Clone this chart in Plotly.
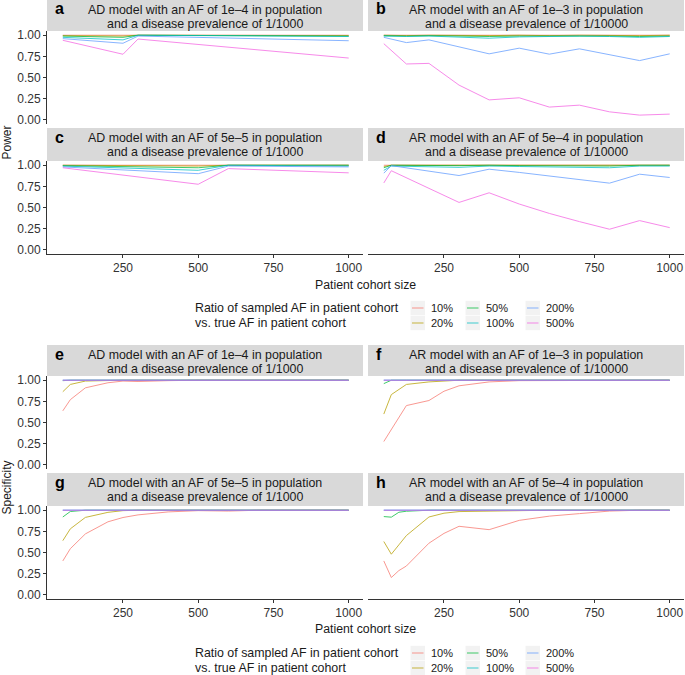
import plotly.graph_objects as go

W, H = 685, 675

# ---------------- data ----------------
ratios = ["10%", "20%", "50%", "100%", "200%", "500%"]
colors = ["#F8766D", "#B79F00", "#00BA38", "#00BFC4", "#619CFF", "#F564E3"]
x_ticks = [250, 500, 750, 1000]
y_ticks = [0, 0.25, 0.5, 0.75, 1.0]
y_tick_text = ["0.00", "0.25", "0.50", "0.75", "1.00"]

# Power panels (a-d); each list holds one row per ratio (10%,20%,50%,100%,200%,500%)
x_a = [50, 250, 300, 1000]
power_a = [
    [1.0, 1.0, 1.0, 1.0],
    [0.995, 0.99, 1.0, 0.995],
    [0.99, 0.975, 1.0, 0.99],
    [0.975, 0.945, 1.0, 0.985],
    [0.96, 0.905, 0.99, 0.935],
    [0.94, 0.775, 0.955, 0.73],
]

x_b = [50, 125, 200, 300, 400, 500, 600, 700, 800, 900, 1000]
power_b = [
    [1.0, 1.0, 1.0, 1.0, 1.0, 1.0, 1.0, 1.0, 1.0, 1.0, 1.0],
    [1.0, 0.995, 1.0, 0.995, 0.995, 1.0, 0.995, 1.0, 0.995, 0.995, 1.0],
    [0.995, 0.99, 0.995, 0.99, 0.985, 0.99, 0.99, 0.995, 0.99, 0.985, 0.99],
    [0.99, 0.985, 0.99, 0.975, 0.965, 0.98, 0.985, 0.99, 0.985, 0.975, 0.985],
    [0.975, 0.913, 0.945, 0.865, 0.78, 0.847, 0.776, 0.839, 0.77, 0.70, 0.78],
    [0.90, 0.66, 0.667, 0.41, 0.235, 0.26, 0.15, 0.173, 0.094, 0.055, 0.067],
]

x_c = [50, 500, 600, 1000]
power_c = [
    [1.0, 1.0, 1.0, 1.0],
    [1.0, 0.99, 1.0, 1.0],
    [0.995, 0.97, 1.0, 1.0],
    [0.99, 0.94, 1.0, 0.99],
    [0.98, 0.90, 0.99, 0.98],
    [0.97, 0.775, 0.96, 0.91],
]

x_d = [50, 75, 300, 400, 500, 600, 700, 800, 900, 1000]
power_d = [
    [1.0, 1.0, 1.0, 1.0, 1.0, 1.0, 1.0, 1.0, 1.0, 1.0],
    [0.985, 1.0, 1.0, 1.0, 1.0, 1.0, 1.0, 1.0, 1.0, 1.0],
    [0.97, 1.0, 0.995, 1.0, 0.995, 0.995, 0.995, 0.99, 1.0, 1.0],
    [0.94, 0.99, 0.975, 0.99, 0.985, 0.98, 0.975, 0.97, 0.99, 0.99],
    [0.906, 0.995, 0.878, 0.953, 0.915, 0.872, 0.83, 0.788, 0.894, 0.855],
    [0.79, 0.935, 0.56, 0.674, 0.541, 0.43, 0.333, 0.243, 0.345, 0.262],
]

# Specificity panels (e-h)
x_e = [50, 75, 125, 200, 250, 300, 400, 500, 1000]
spec_e = [
    [0.638, 0.77, 0.91, 0.97, 0.99, 0.985, 0.995, 1.0, 1.0],
    [0.864, 0.95, 0.99, 1.0, 1.0, 1.0, 1.0, 1.0, 1.0],
    [0.995, 1.0, 1.0, 1.0, 1.0, 1.0, 1.0, 1.0, 1.0],
    [1.0, 1.0, 1.0, 1.0, 1.0, 1.0, 1.0, 1.0, 1.0],
    [1.0, 1.0, 1.0, 1.0, 1.0, 1.0, 1.0, 1.0, 1.0],
    [1.0, 1.0, 1.0, 1.0, 1.0, 1.0, 1.0, 1.0, 1.0],
]

x_f = [50, 75, 125, 200, 250, 300, 400, 500, 1000]
spec_f = [
    [0.275, 0.42, 0.70, 0.76, 0.87, 0.934, 0.98, 0.995, 1.0],
    [0.60, 0.83, 0.95, 0.98, 0.99, 1.0, 1.0, 1.0, 1.0],
    [0.96, 1.0, 1.0, 1.0, 1.0, 1.0, 1.0, 1.0, 1.0],
    [1.0, 1.0, 1.0, 1.0, 1.0, 1.0, 1.0, 1.0, 1.0],
    [1.0, 1.0, 1.0, 1.0, 1.0, 1.0, 1.0, 1.0, 1.0],
    [1.0, 1.0, 1.0, 1.0, 1.0, 1.0, 1.0, 1.0, 1.0],
]

x_g = [50, 75, 125, 200, 250, 300, 400, 500, 600, 700, 1000]
spec_g = [
    [0.40, 0.545, 0.72, 0.863, 0.914, 0.945, 0.98, 0.995, 0.99, 1.0, 1.0],
    [0.64, 0.78, 0.915, 0.975, 0.995, 1.0, 1.0, 1.0, 1.0, 1.0, 1.0],
    [0.92, 0.985, 1.0, 1.0, 1.0, 1.0, 1.0, 1.0, 1.0, 1.0, 1.0],
    [1.0, 1.0, 1.0, 1.0, 1.0, 1.0, 1.0, 1.0, 1.0, 1.0, 1.0],
    [1.0, 1.0, 1.0, 1.0, 1.0, 1.0, 1.0, 1.0, 1.0, 1.0, 1.0],
    [1.0, 1.0, 1.0, 1.0, 1.0, 1.0, 1.0, 1.0, 1.0, 1.0, 1.0],
]

x_h = [50, 75, 100, 125, 200, 250, 300, 400, 500, 600, 700, 800, 900, 1000]
spec_h = [
    [0.40, 0.204, 0.286, 0.34, 0.61, 0.726, 0.81, 0.77, 0.88, 0.93, 0.96, 0.99, 1.0, 1.0],
    [0.63, 0.48, 0.59, 0.70, 0.92, 0.965, 0.984, 0.99, 1.0, 1.0, 1.0, 1.0, 1.0, 1.0],
    [0.925, 0.918, 0.976, 0.988, 1.0, 1.0, 1.0, 1.0, 1.0, 1.0, 1.0, 1.0, 1.0, 1.0],
    [1.0, 1.0, 1.0, 1.0, 1.0, 1.0, 1.0, 1.0, 1.0, 1.0, 1.0, 1.0, 1.0, 1.0],
    [1.0, 1.0, 1.0, 1.0, 1.0, 1.0, 1.0, 1.0, 1.0, 1.0, 1.0, 1.0, 1.0, 1.0],
    [1.0, 1.0, 1.0, 1.0, 1.0, 1.0, 1.0, 1.0, 1.0, 1.0, 1.0, 1.0, 1.0, 1.0],
]

title_ad1 = ["AD model with an AF of 1e\u20134 in population", "and a disease prevalence of 1/1000"]
title_ar1 = ["AR model with an AF of 1e\u20133 in population", "and a disease prevalence of 1/10000"]
title_ad2 = ["AD model with an AF of 5e\u20135 in population", "and a disease prevalence of 1/1000"]
title_ar2 = ["AR model with an AF of 5e\u20134 in population", "and a disease prevalence of 1/10000"]

legend_title = ["Ratio of sampled AF in patient cohort", "vs. true AF in patient cohort"]

# ---------------- layout geometry (pixels) ----------------
FONT = "Liberation Sans, Arial, Helvetica, sans-serif"
cols_px = [(47, 363), (368, 684)]
rows_px = [(0, 31, 124), (128, 161, 254), (345, 376, 469), (473, 506, 599)]
LINE_ALPHA = 0.75


def fx(px):
    return px / W


def fy(py):
    return 1 - py / H


panels = [
    ("a", 0, 0, x_a, power_a, title_ad1),
    ("b", 0, 1, x_b, power_b, title_ar1),
    ("c", 1, 0, x_c, power_c, title_ad2),
    ("d", 1, 1, x_d, power_d, title_ar2),
    ("e", 2, 0, x_e, spec_e, title_ad1),
    ("f", 2, 1, x_f, spec_f, title_ar1),
    ("g", 3, 0, x_g, spec_g, title_ad2),
    ("h", 3, 1, x_h, spec_h, title_ar2),
]

fig = go.Figure()
layout = dict(
    width=W, height=H,
    margin=dict(l=0, r=0, t=0, b=0),
    paper_bgcolor="white", plot_bgcolor="white",
    showlegend=False,
    font=dict(family=FONT, size=12, color="#1a1a1a"),
)
shapes = []
annotations = []

for i, (letter, r, c, xs, ys, title) in enumerate(panels):
    n = i + 1
    sfx = "" if n == 1 else str(n)
    x0, x1 = cols_px[c]
    s_top, p_top, p_bot = rows_px[r]
    bottom = r in (1, 3)
    left = c == 0
    layout["xaxis" + sfx] = dict(
        domain=[fx(x0), fx(x1)], range=[-2.5, 1047.5], anchor="y" + sfx,
        tickvals=x_ticks, showgrid=False, zeroline=False,
        showline=bottom, linecolor="#333333", linewidth=1,
        ticks="outside" if bottom else "", ticklen=3, tickwidth=1, tickcolor="#333333",
        showticklabels=bottom, tickfont=dict(size=12, color="#333333", family=FONT),
        automargin=False, fixedrange=True,
    )
    layout["yaxis" + sfx] = dict(
        domain=[fy(p_bot), fy(p_top)], range=[-0.05, 1.05], anchor="x" + sfx,
        tickvals=y_ticks, ticktext=y_tick_text, showgrid=False, zeroline=False,
        showline=left, linecolor="#333333", linewidth=1,
        ticks="outside" if left else "", ticklen=3, tickwidth=1, tickcolor="#333333",
        showticklabels=left, tickfont=dict(size=12, color="#333333", family=FONT),
        automargin=False, fixedrange=True,
    )
    for k in range(len(ratios)):
        fig.add_trace(go.Scatter(
            x=xs, y=ys[k], mode="lines", name=ratios[k],
            line=dict(color=colors[k], width=1), opacity=LINE_ALPHA,
            xaxis="x" + sfx, yaxis="y" + sfx, hoverinfo="skip", showlegend=False,
        ))
    # strip
    shapes.append(dict(type="rect", xref="paper", yref="paper",
                       x0=fx(x0), x1=fx(x1), y0=fy(p_top), y1=fy(s_top),
                       fillcolor="#D9D9D9", line=dict(width=0), layer="below"))
    cx = (x0 + x1) / 2
    annotations.append(dict(text=title[0], x=fx(cx), y=fy(s_top + 10), xref="paper", yref="paper",
                            showarrow=False, xanchor="center", yanchor="middle",
                            font=dict(size=12.4, color="#1a1a1a", family=FONT)))
    annotations.append(dict(text=title[1], x=fx(cx), y=fy(s_top + 24), xref="paper", yref="paper",
                            showarrow=False, xanchor="center", yanchor="middle",
                            font=dict(size=12.4, color="#1a1a1a", family=FONT)))
    annotations.append(dict(text="<b>" + letter + "</b>", x=fx(x0 + 6), y=fy(s_top + 9),
                            xref="paper", yref="paper", showarrow=False,
                            xanchor="left", yanchor="middle",
                            font=dict(size=16, color="#000000", family=FONT)))

# axis titles
for txt, ymid in (("Power", (31 + 254) / 2), ("Specificity", (376 + 599) / 2)):
    annotations.append(dict(text=txt, x=fx(6), y=fy(ymid), xref="paper", yref="paper",
                            showarrow=False, textangle=-90, xanchor="center", yanchor="middle",
                            font=dict(size=12, color="#1a1a1a", family=FONT)))
for yt in (285, 629):
    annotations.append(dict(text="Patient cohort size", x=fx(365.5), y=fy(yt), xref="paper", yref="paper",
                            showarrow=False, xanchor="center", yanchor="middle",
                            font=dict(size=12.3, color="#1a1a1a", family=FONT)))

# legends (drawn for both halves)
key_left = [410.5, 465.5, 525.5]
for off in (0, 345):
    rows_y = [308 + off, 323 + off]
    for j, t in enumerate(legend_title):
        annotations.append(dict(text=t, x=fx(193), y=fy(rows_y[j]), xref="paper", yref="paper",
                                showarrow=False, xanchor="left", yanchor="middle",
                                font=dict(size=12.4, color="#1a1a1a", family=FONT)))
    for k in range(len(ratios)):
        col, row = k // 2, k % 2
        kx0 = key_left[col]
        kx1 = kx0 + 14.5
        ky = rows_y[row]
        shapes.append(dict(type="rect", xref="paper", yref="paper",
                           x0=fx(kx0), x1=fx(kx1), y0=fy(ky + 7.2), y1=fy(ky - 7.2),
                           fillcolor="#F2F2F2", line=dict(width=0), layer="below"))
        shapes.append(dict(type="line", xref="paper", yref="paper",
                           x0=fx(kx0 + 1.5), x1=fx(kx1 - 1.5), y0=fy(ky), y1=fy(ky),
                           line=dict(color=colors[k], width=1), opacity=LINE_ALPHA))
        annotations.append(dict(text=ratios[k], x=fx(kx1 + 3.5), y=fy(ky), xref="paper", yref="paper",
                                showarrow=False, xanchor="left", yanchor="middle",
                                font=dict(size=11, color="#1a1a1a", family=FONT)))

layout["shapes"] = shapes
layout["annotations"] = annotations
fig.update_layout(**layout)
fig.write_html(
    "out.html",
    config={"displayModeBar": False},
    post_script="document.body.style.margin='0px';document.body.style.overflow='hidden';",
)
